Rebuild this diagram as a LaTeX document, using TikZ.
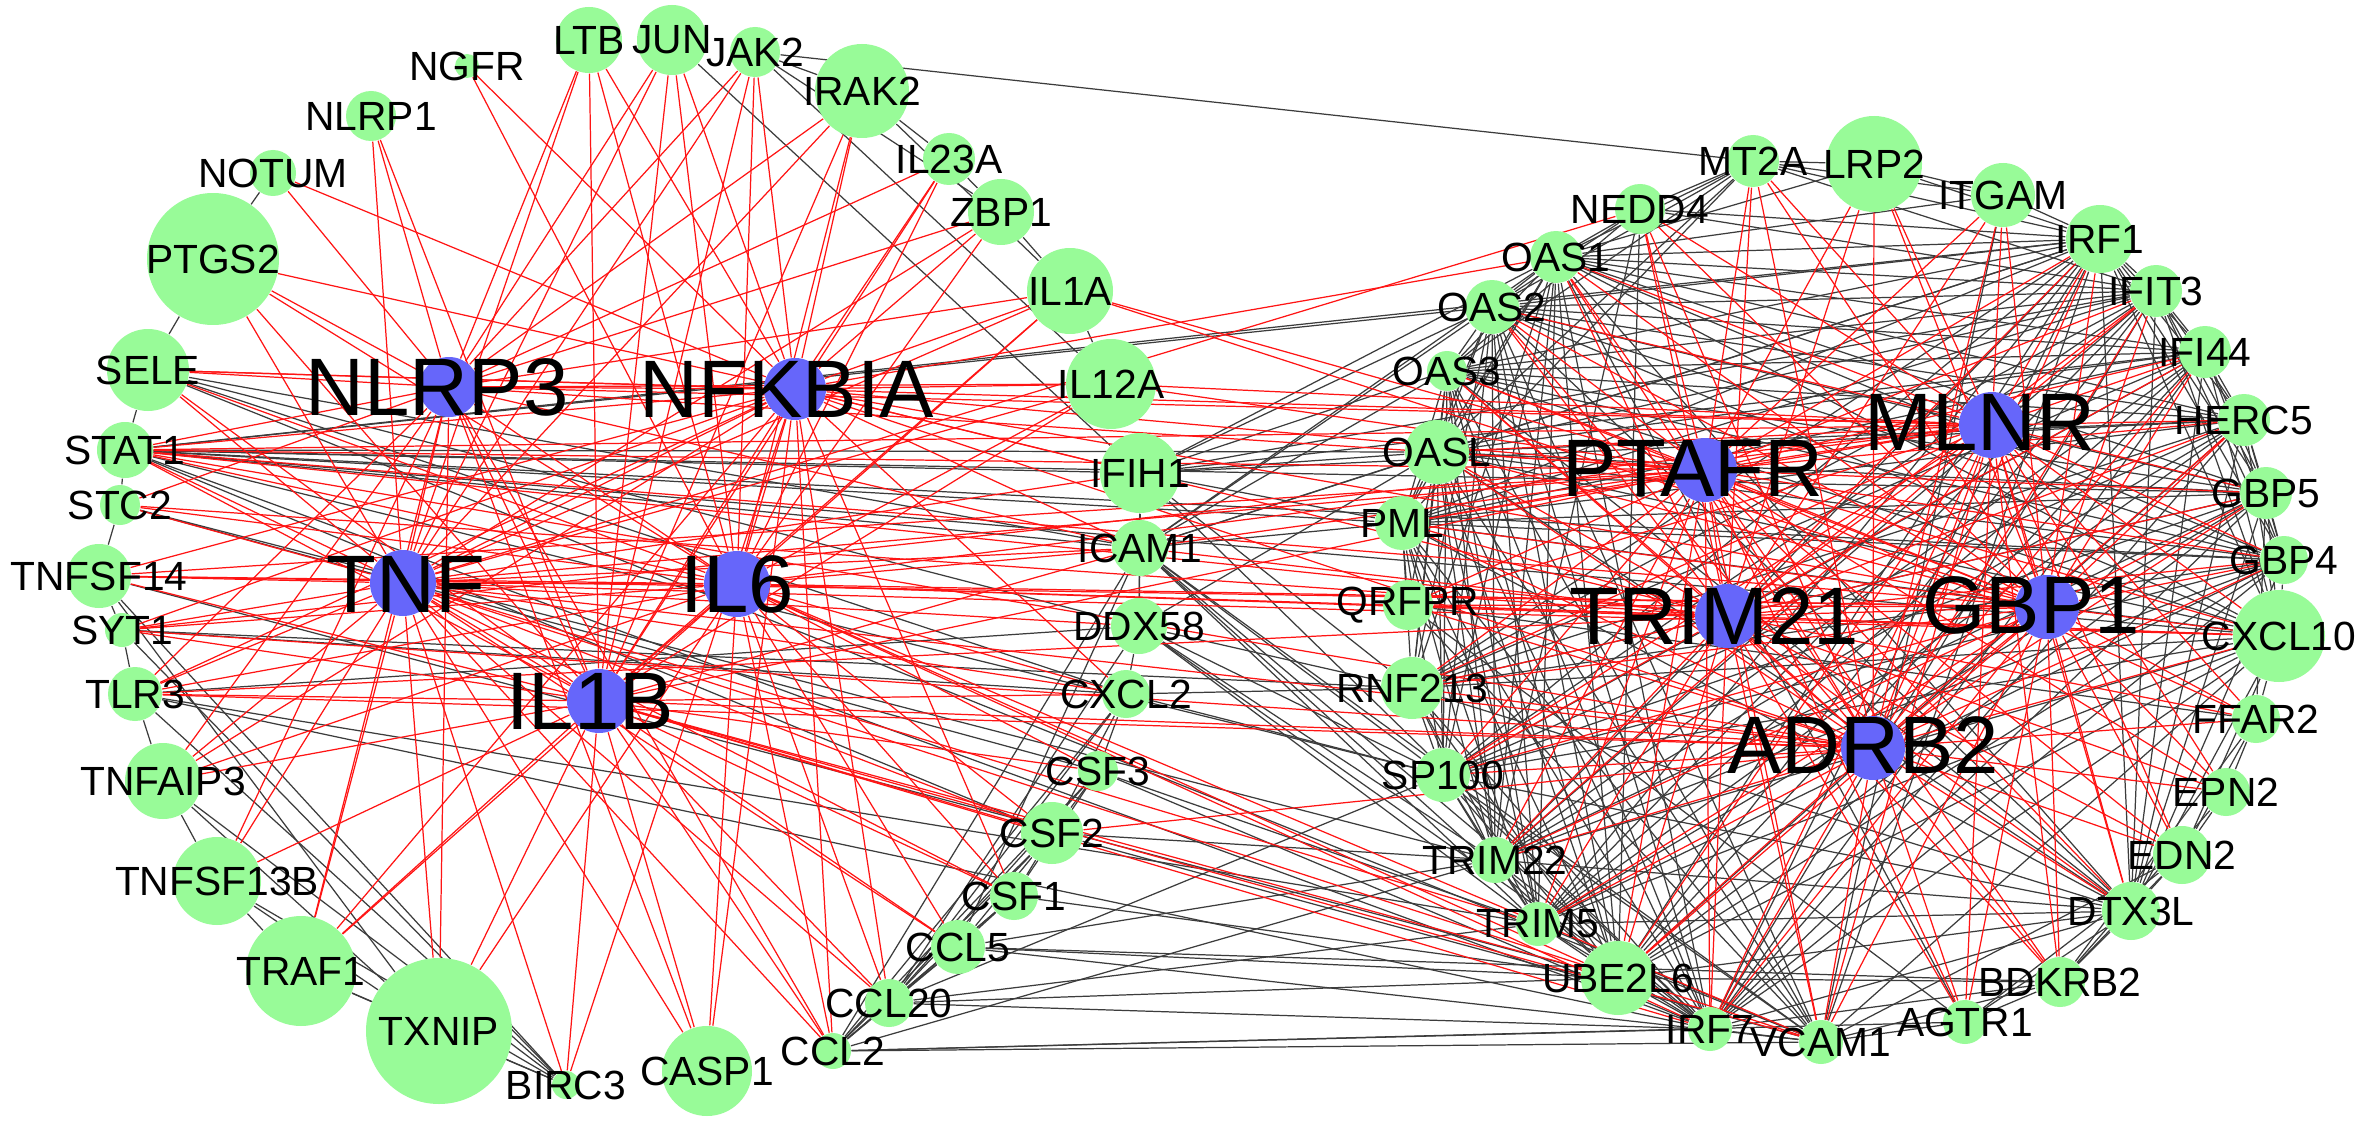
\documentclass[tikz,border=0pt]{standalone}
\usepackage{fontspec}
\setmainfont{Liberation Sans}
\definecolor{ngreen}{RGB}{152,251,152}
\definecolor{nblue}{RGB}{102,102,250}
\definecolor{egray}{RGB}{60,60,60}
\definecolor{ered}{RGB}{255,20,20}
\pgfdeclarelayer{edges}
\pgfsetlayers{edges,main}
\tikzset{
  gnode/.style={circle,fill=ngreen,inner sep=0pt,minimum size=#1},
  bnode/.style={circle,fill=nblue,inner sep=0pt,minimum size=#1},
  slab/.style={inner sep=0pt,font=\fontsize{11.6}{12}\selectfont},
  blab/.style={inner sep=0pt,font=\fontsize{23.2}{24}\selectfont},
  rede/.style={draw=ered,line width=0.35pt},
  graye/.style={draw=egray,line width=0.35pt},
}
\def\greens{NGFR/467/66/12, LTB/589/40/33, JUN/672/40/35, JAK2/755/52/25, IRAK2/862/91/47, NLRP1/371/116/25, IL23A/949/159/26, NOTUM/273/173/23, ZBP1/1001/212/33, PTGS2/213/259/66, IL1A/1070/291/43, SELE/148/370/41, IL12A/1111/384/45, STAT1/125/450/28, STC2/120/505/20, TNFSF14/99/576/32, SYT1/122/630/17, TLR3/135/694/27, TNFAIP3/163/781/38, TNFSF13B/217/881/44, TRAF1/301/971/55, TXNIP/439/1031/73, BIRC3/566/1085/14, CASP1/707/1071/45, CCL2/833/1051/18, CCL20/889/1003/24, CCL5/958/947/27, CSF1/1014/896/24, CSF2/1052/833/31, CSF3/1098/771/20, CXCL2/1126/694/24, DDX58/1139/626/28, ICAM1/1140/548/28, IFIH1/1140/473/40, MT2A/1753/161/26, LRP2/1874/164/48, ITGAM/2003/195/32, NEDD4/1640/209/25, IRF1/2100/239/34, OAS1/1556/257/26, IFIT3/2156/291/26, OAS2/1492/307/27, IFI44/2205/352/26, OAS3/1447/371/20, HERC5/2244/420/26, OASL/1437/452/32, GBP5/2266/493/26, PML/1402/523/27, GBP4/2284/560/24, QRFPR/1408/605/25, CXCL10/2279/636/46, RNF213/1412/688/31, FFAR2/2256/719/24, SP100/1443/775/27, EPN2/2226/792/24, EDN2/2182/855/29, TRIM22/1495/860/23, DTX3L/2131/911/29, TRIM5/1538/924/22, UBE2L6/1618/978/37, BDKRB2/2060/982/25, IRF7/1710/1029/22, VCAM1/1821/1042/22, AGTR1/1965/1022/22}
\def\blues{NLRP3/449/387/30/437/387, NFKBIA/795/389/31/787/389, TNF/403/583/33/406/584, IL6/737/584/33/737/584, IL1B/599/701/32/590/701, PTAFR/1705/470/32/1693/468, MLNR/1992/425/33/1980/422, TRIM21/1727/616/32/1714/616, GBP1/2047/607/32/2031/605, ADRB2/1873/748/32/1863/745}
\def\isg{OAS1,OAS2,OAS3,OASL,IFIT3,IFI44,HERC5,IRF1,IRF7,GBP4,GBP5,CXCL10,SP100,PML,TRIM22,TRIM5,UBE2L6,DTX3L,RNF213}
\def\grayp{PTGS2/NOTUM, PTGS2/SELE, SELE/STAT1, STAT1/STC2, STC2/TNFSF14, TNFSF14/SYT1, SYT1/TLR3, TLR3/TNFAIP3, TNFAIP3/TNFSF13B, TNFSF13B/TRAF1, TRAF1/TXNIP, TXNIP/BIRC3, BIRC3/TRAF1, BIRC3/TNFSF13B, BIRC3/TNFAIP3, BIRC3/TLR3, BIRC3/SYT1, BIRC3/TNFSF14, TNFSF13B/TXNIP, TNFAIP3/TXNIP, TNFSF14/TXNIP,
JAK2/MT2A, JAK2/IRAK2, JAK2/IL12A, JUN/IFIH1, JAK2/ZBP1, IRAK2/IL23A, IL23A/ZBP1, ZBP1/IL1A, IL1A/IL12A, IRAK2/IL1A,
ICAM1/OAS1, ICAM1/OAS2, ICAM1/OAS3, ICAM1/OASL, ICAM1/PML, ICAM1/VCAM1, ICAM1/IRF7, ICAM1/TRIM5, ICAM1/SP100, ICAM1/IRF1, ICAM1/UBE2L6, ICAM1/DDX58, ICAM1/IFIH1, ICAM1/CCL2, ICAM1/CCL5, ICAM1/STAT1,
IFIH1/OAS1, IFIH1/OAS2, IFIH1/OASL, IFIH1/OAS3, IFIH1/DDX58, IFIH1/IRF7, IFIH1/IFIT3, IFIH1/IFI44, IFIH1/HERC5, IFIH1/PML, IFIH1/RNF213, IFIH1/STAT1,
DDX58/IRF7, DDX58/TRIM5, DDX58/TRIM22, DDX58/OASL, DDX58/RNF213, DDX58/SP100, DDX58/CCL20, DDX58/TLR3, DDX58/CXCL2,
CXCL2/RNF213, CXCL2/CSF3, CXCL2/CCL2, CXCL2/CCL20, CXCL2/CSF2, CXCL2/SP100, CXCL2/SELE,
CSF3/CSF2, CSF3/CCL2, CSF3/CCL20, CSF3/TRIM5, CSF3/IRF7, CSF3/CSF1,
CSF2/CSF1, CSF2/CCL2, CSF2/CCL20, CSF2/VCAM1, CSF2/TRIM22, CSF2/CCL5,
CSF1/CCL5, CSF1/CCL2, CSF1/CCL20, CSF1/UBE2L6,
CCL5/CCL20, CCL5/CCL2, CCL5/TRIM22, CCL5/BDKRB2, CCL5/VCAM1, CCL5/UBE2L6,
CCL20/CCL2, CCL20/UBE2L6, CCL20/SP100, CCL20/TRIM5, CCL20/IRF7,
CCL2/VCAM1, CCL2/IRF7, CCL2/TRIM22, CCL2/AGTR1,
STAT1/IRF1, STAT1/OAS2, STAT1/OASL, STAT1/PML, STAT1/CXCL10, STAT1/IRF7, STAT1/GBP4, STAT1/SP100, STAT1/CSF2, STAT1/GBP5,
SELE/VCAM1, SELE/ICAM1, SELE/DDX58, STC2/TRIM22, STC2/CSF3, SYT1/CXCL2, SYT1/RNF213, TLR3/IRF7, TLR3/TRIM5, TNFSF14/UBE2L6,
MT2A/OAS1, MT2A/OAS2, MT2A/NEDD4, MT2A/IRF1, MT2A/OAS3, MT2A/OASL, MT2A/LRP2, MT2A/ITGAM, MT2A/IFIT3, MT2A/PML,
NEDD4/OAS1, NEDD4/OAS2, NEDD4/UBE2L6, NEDD4/TRIM22, NEDD4/IRF1, NEDD4/IFIT3, NEDD4/OAS3,
ITGAM/IRF1, ITGAM/LRP2, ITGAM/VCAM1, ITGAM/OAS1, LRP2/IRF1, LRP2/OAS1,
VCAM1/OAS3, VCAM1/OASL, VCAM1/PML, VCAM1/IRF1, VCAM1/IRF7, VCAM1/AGTR1, VCAM1/EDN2, VCAM1/CXCL10, VCAM1/SP100, VCAM1/TRIM5, VCAM1/BDKRB2, VCAM1/OAS2, VCAM1/QRFPR,
AGTR1/EDN2, AGTR1/BDKRB2, AGTR1/DTX3L, AGTR1/QRFPR, AGTR1/OAS1,
BDKRB2/EDN2, BDKRB2/DTX3L, BDKRB2/EPN2, BDKRB2/FFAR2, BDKRB2/UBE2L6, BDKRB2/IRF7,
EDN2/EPN2, EDN2/DTX3L, EDN2/FFAR2, EDN2/CXCL10, FFAR2/EPN2, FFAR2/CXCL10, FFAR2/QRFPR, FFAR2/GBP5, QRFPR/PML, QRFPR/OASL}
\begin{document}
\begin{tikzpicture}[x=0.1mm,y=-0.1mm]
\useasboundingbox (0,0) rectangle (2362,1128);
% nodes
\foreach \n/\x/\y/\r in \greens { \node[gnode=\r*0.2mm] (\n) at (\x,\y) {}; }
\foreach \n/\x/\y/\r/\lx/\ly in \blues { \node[bnode=\r*0.2mm] (\n) at (\x,\y) {}; }
% labels
\foreach \n/\x/\y/\r in \greens { \node[slab] (t\n) at (\x,\y) {\n}; }
\foreach \n/\x/\y/\r/\lx/\ly in \blues { \node[blab] (t\n) at (\lx,\ly) {\n}; }
% edges
\begin{pgfonlayer}{edges}
\fill[white] (0,0) rectangle (2362,1128);
\foreach \a [count=\i] in \isg {
  \foreach \b [count=\j] in \isg {
    \ifnum\j>\i \draw[graye] (\a) -- (\b); \fi
  }
}
\foreach \a/\b in \grayp { \draw[graye] (\a) -- (\b); }
% left hubs
\foreach \g in {NLRP1,NOTUM,LTB,JUN,JAK2,PTGS2,SELE,STAT1,STC2,TNF,IL1B,IL6,NFKBIA,TXNIP,CASP1,TRAF1,TNFAIP3,IL1A,IL12A,IRAK2,TLR3,CCL2,TNFSF13B,IL23A,ZBP1,MLNR,PTAFR,ICAM1}
  { \draw[rede] (NLRP3) -- (\g); }
\foreach \g in {LTB,JUN,JAK2,IRAK2,IL23A,ZBP1,IL1A,IL12A,NGFR,PTGS2,SELE,STAT1,TNF,IL6,IL1B,TNFAIP3,TRAF1,BIRC3,CASP1,CCL2,CCL20,CSF1,CXCL2,ICAM1,TNFSF14,SYT1,TLR3,TRIM21,GBP1,ADRB2,IFIH1,NOTUM,OAS1,PTAFR}
  { \draw[rede] (NFKBIA) -- (\g); }
\foreach \g in {LTB,JUN,JAK2,IRAK2,NLRP1,PTGS2,SELE,STAT1,STC2,TNFSF14,SYT1,TLR3,TNFAIP3,TNFSF13B,TRAF1,TXNIP,BIRC3,CASP1,IL1A,IL12A,ICAM1,IFIH1,DDX58,CXCL2,CSF2,CSF1,CCL5,CCL20,CCL2,IL6,IL1B,VCAM1,PTAFR,ADRB2,CXCL10,ZBP1,TRIM5,NEDD4}
  { \draw[rede] (TNF) -- (\g); }
\foreach \g in {LTB,JUN,JAK2,IRAK2,IL23A,ZBP1,IL1A,IL12A,PTGS2,SELE,STAT1,TNFSF14,SYT1,TLR3,TNFAIP3,TRAF1,TXNIP,CASP1,CCL2,CCL20,CCL5,CSF1,CSF2,CSF3,CXCL2,ICAM1,IL1B,NGFR,VCAM1,CXCL10,MLNR,GBP1,TRIM21,STC2,IRF7,UBE2L6}
  { \draw[rede] (IL6) -- (\g); }
\foreach \g in {LTB,JUN,IRAK2,NLRP1,PTGS2,SELE,STAT1,TNFSF14,SYT1,TLR3,TNFAIP3,TNFSF13B,TRAF1,TXNIP,BIRC3,CASP1,CCL2,CCL20,CCL5,CSF1,CSF2,CSF3,CXCL2,ICAM1,IL1A,IL12A,IL23A,UBE2L6,IRF7,VCAM1,PTAFR,ADRB2,JAK2}
  { \draw[rede] (IL1B) -- (\g); }
% right hubs
\foreach \g in {MT2A,LRP2,ITGAM,NEDD4,OAS1,OAS2,OAS3,OASL,PML,QRFPR,RNF213,SP100,TRIM22,TRIM5,UBE2L6,IRF7,VCAM1,AGTR1,BDKRB2,DTX3L,EDN2,EPN2,FFAR2,CXCL10,GBP4,GBP5,HERC5,IFI44,IFIT3,IRF1,MLNR,TRIM21,GBP1,ADRB2,STAT1,IL12A,IL1A,ICAM1,TNFSF14}
  { \draw[rede] (PTAFR) -- (\g); }
\foreach \g in {MT2A,LRP2,ITGAM,NEDD4,OAS1,OAS2,OASL,PML,QRFPR,RNF213,SP100,TRIM22,UBE2L6,IRF7,VCAM1,AGTR1,BDKRB2,DTX3L,EDN2,EPN2,FFAR2,CXCL10,GBP4,GBP5,HERC5,IFI44,IFIT3,IRF1,TRIM21,GBP1,ADRB2,STAT1,SELE,IL12A,SYT1}
  { \draw[rede] (MLNR) -- (\g); }
\foreach \g in {MT2A,LRP2,NEDD4,OAS1,OAS2,OAS3,OASL,PML,QRFPR,RNF213,SP100,TRIM22,TRIM5,UBE2L6,IRF7,VCAM1,AGTR1,BDKRB2,DTX3L,EDN2,EPN2,FFAR2,CXCL10,GBP4,GBP5,HERC5,IFI44,IFIT3,IRF1,ITGAM,GBP1,ADRB2,STAT1,TLR3,ICAM1,STC2}
  { \draw[rede] (TRIM21) -- (\g); }
\foreach \g in {MT2A,LRP2,ITGAM,NEDD4,OAS1,OAS2,OAS3,OASL,PML,QRFPR,RNF213,SP100,TRIM22,TRIM5,UBE2L6,IRF7,VCAM1,AGTR1,BDKRB2,DTX3L,EDN2,EPN2,FFAR2,CXCL10,GBP4,GBP5,HERC5,IFI44,IFIT3,IRF1,ADRB2,STAT1,TNFSF14,IL1A}
  { \draw[rede] (GBP1) -- (\g); }
\foreach \g in {MT2A,LRP2,ITGAM,NEDD4,OAS1,OAS2,OAS3,OASL,PML,QRFPR,RNF213,SP100,TRIM22,TRIM5,UBE2L6,IRF7,VCAM1,AGTR1,BDKRB2,DTX3L,EDN2,EPN2,FFAR2,CXCL10,GBP4,GBP5,HERC5,IFI44,IFIT3,IRF1,STAT1,SYT1,TLR3,CSF2}
  { \draw[rede] (ADRB2) -- (\g); }
\end{pgfonlayer}
\end{tikzpicture}
\end{document}
